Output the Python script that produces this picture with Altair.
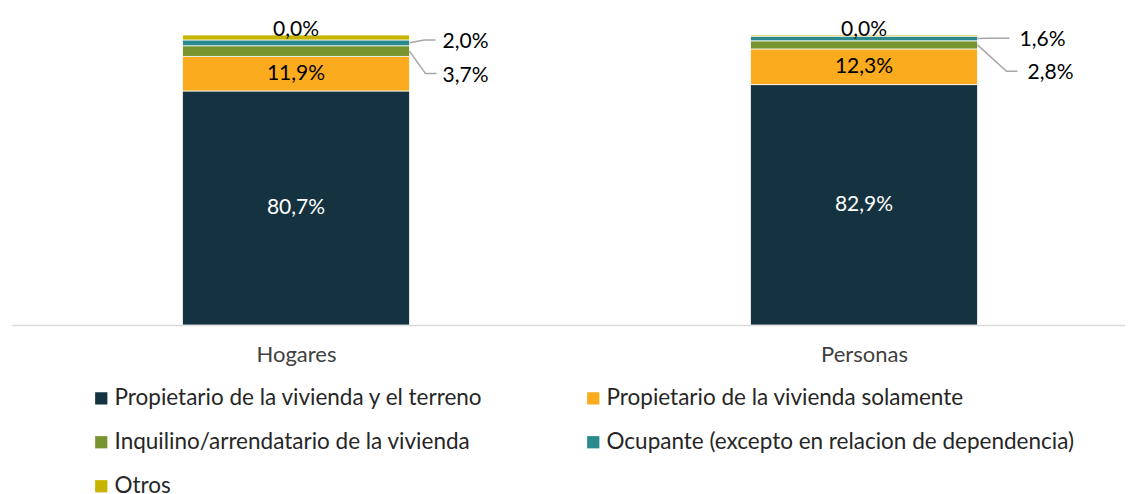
import altair as alt
import pandas as pd

# ---- data ----
groups = ["Hogares", "Personas"]
categories = [
    "Propietario de la vivienda y el terreno",
    "Propietario de la vivienda solamente",
    "Inquilino/arrendatario de la vivienda",
    "Ocupante (excepto en relacion de dependencia)",
    "Otros",
]
hogares = [80.7, 11.9, 3.7, 2.0, 1.7]
personas = [82.9, 12.3, 2.8, 1.6, 0.4]
hogares_labels = ["80,7%", "11,9%", "3,7%", "2,0%", "0,0%"]
personas_labels = ["82,9%", "12,3%", "2,8%", "1,6%", "0,0%"]
colors = ["#143240", "#FBAB1E", "#78942E", "#2A8A8E", "#C6B400"]

# ---- layout constants (styles / positions) ----
W, H = 1113, 290
STEP_PX = 568.0
X_DOMAIN = [-0.5, -0.5 + W / STEP_PX]
HALF = 113.5 / STEP_PX
FONT = "Lato"
LABEL_FS = 21
# placement for the small outside labels: (label y in %, elbow dx px, end dx px, label dx px)
outside = {
    ("Hogares", 3): (97.6, 15, 26, 33),
    ("Hogares", 2): (86.0, 16, 27, 33),
    ("Personas", 3): (98.2, 10, 32, 42),
    ("Personas", 2): (86.8, 29, 40, 50),
}
# legend laid out row by row (vega fills legend columns top-to-bottom)
legend_order = [0, 2, 4, 1, 3]

rows = []
for gi, (g, vals, labs) in enumerate(zip(groups, [hogares, personas], [hogares_labels, personas_labels])):
    cum = 0.0
    for ci, (c, v, lab) in enumerate(zip(categories, vals, labs)):
        rows.append(dict(group=g, gi=gi, cat=c, ci=ci, value=v, start=cum, end=cum + v,
                         mid=cum + v / 2, label=lab, x0=gi - HALF, x1=gi + HALF))
        cum += v
df = pd.DataFrame(rows)

xs = alt.Scale(domain=X_DOMAIN, nice=False, zero=False)
ys = alt.Scale(domain=[0, 100], nice=False, zero=True)

bars = alt.Chart(df).mark_rect(stroke="white", strokeWidth=0.75).encode(
    x=alt.X("x0:Q", scale=xs, axis=alt.Axis(values=[0, 1], labelExpr="datum.value == 0 ? 'Hogares' : 'Personas'",
                                             ticks=False, grid=False, domainColor="#D9D9D9", domainWidth=1.5,
                                             labelFontSize=22, labelFont=FONT, labelColor="#404040",
                                             labelPadding=19, title=None)),
    x2="x1:Q",
    y=alt.Y("start:Q", scale=ys, axis=None),
    y2="end:Q",
    color=alt.Color("cat:N", scale=alt.Scale(domain=[categories[i] for i in legend_order],
                                             range=[colors[i] for i in legend_order]),
                    legend=alt.Legend(title=None, orient="none", legendX=78, legendY=352, columns=2,
                                      columnPadding=98, rowPadding=21, symbolType="square", symbolSize=150,
                                      symbolStrokeWidth=0, labelFontSize=22.5, labelFont=FONT,
                                      labelColor="#262626", labelLimit=0, labelOffset=2, padding=0)),
)

inner_dark = alt.Chart(df[df.ci == 0]).mark_text(fontSize=LABEL_FS, font=FONT, color="white").encode(
    x=alt.X("gi:Q", scale=xs), y=alt.Y("mid:Q", scale=ys), text="label:N")
inner_orange = alt.Chart(df[df.ci == 1]).mark_text(fontSize=LABEL_FS, font=FONT, color="#000000").encode(
    x=alt.X("gi:Q", scale=xs), y=alt.Y("mid:Q", scale=ys), text="label:N")
top_lab = alt.Chart(df[df.ci == 4]).mark_text(fontSize=LABEL_FS, font=FONT, color="#000000", dy=-5).encode(
    x=alt.X("gi:Q", scale=xs), y=alt.Y("end:Q", scale=ys), text="label:N")

# outside labels and leader lines
lab_rows, line_rows = [], []
for (g, ci), (ly, ex, en, lx) in outside.items():
    r = df[(df.group == g) & (df.ci == ci)].iloc[0]
    xr = r.x1
    lab_rows.append(dict(x=xr + lx / STEP_PX, y=ly, label=r.label))
    key = f"{g}-{ci}"
    line_rows += [
        dict(k=key, o=0, x=xr, y=r.mid),
        dict(k=key, o=1, x=xr + ex / STEP_PX, y=ly + 0.7),
        dict(k=key, o=2, x=xr + en / STEP_PX, y=ly + 0.7),
    ]
lab_df = pd.DataFrame(lab_rows)
line_df = pd.DataFrame(line_rows)

out_lab = alt.Chart(lab_df).mark_text(fontSize=LABEL_FS, font=FONT, color="#000000", align="left").encode(
    x=alt.X("x:Q", scale=xs), y=alt.Y("y:Q", scale=ys), text="label:N")
leaders = alt.Chart(line_df).mark_line(color="#A6A6A6", strokeWidth=1.5).encode(
    x=alt.X("x:Q", scale=xs), y=alt.Y("y:Q", scale=ys), detail="k:N", order="o:Q")

chart = alt.layer(bars, inner_dark, inner_orange, top_lab, leaders, out_lab).properties(
    width=W, height=H,
    autosize=alt.AutoSizeParams(type="none"),
    padding={"left": 4, "top": 27, "right": 0, "bottom": 169},
).configure_view(stroke=None)

chart.save("out.html", embed_options={"renderer": "svg", "actions": False})
